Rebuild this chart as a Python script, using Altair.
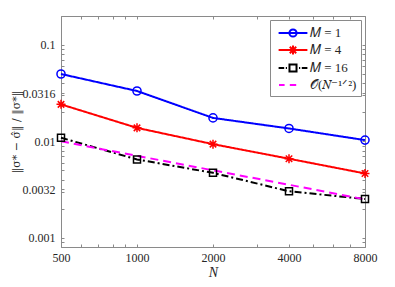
import altair as alt
import pandas as pd

# ---- data ----
N = [500, 1000, 2000, 4000, 8000]
m1 = [0.050, 0.0333, 0.0175, 0.0136, 0.0103]
m4 = [0.0242, 0.0138, 0.00935, 0.0066, 0.00464]
m16 = [0.0109, 0.00649, 0.00471, 0.00303, 0.00252]
ref = [0.0100, 0.00707, 0.0050, 0.00354, 0.0025]

series = ["𝑀 = 1", "𝑀 = 4", "𝑀 = 16", "𝒪(𝑁⁻¹ᐟ²)"]
colors = ["#0000ff", "#ff0000", "#000000", "#ff00ff"]
dashes = [[1, 0], [1, 0], [7, 3, 2, 3], [8, 5]]

x_major = [500, 1000, 2000, 4000, 8000]
x_ticks = [500, 600, 700, 800, 900, 1000, 2000, 3000, 4000, 5000, 6000, 7000, 8000]
y_major = [0.001, 0.0031622777, 0.01, 0.031622777, 0.1]
y_major_labels = ["0.001", "0.0032", "0.01", "0.0316", "0.1"]
y_minor = [0.0008, 0.0009, 0.002, 0.003, 0.004, 0.005, 0.006, 0.007, 0.008, 0.009,
           0.02, 0.03, 0.04, 0.05, 0.06, 0.07, 0.08, 0.09, 0.2]

rows = []
for name, vals in zip(series, [m1, m4, m16, ref]):
    for n, v in zip(N, vals):
        rows.append({"series": name, "N": n, "err": v})
df = pd.DataFrame(rows)

FONT = "Liberation Serif"
FRAME = "#8a8a8a"
TEXT = "#262626"
T = 3
W, H = 304, 231

# marker shapes (unit coordinates)
circle = "M0.9,0A0.9,0.9,0,1,1,-0.9,0A0.9,0.9,0,1,1,0.9,0Z"
star = "M0,-1L0,1M-1,0L1,0M-0.72,-0.72L0.72,0.72M-0.72,0.72L0.72,-0.72"
square = "M-0.78,-0.78L0.78,-0.78L0.78,0.78L-0.78,0.78Z"

# legend symbols: line + marker
leg_shapes = [
    "M-1.8,0L1.8,0M0.45,0A0.45,0.45,0,1,1,-0.45,0A0.45,0.45,0,1,1,0.45,0",
    "M-1.8,0L1.8,0M0,-0.56L0,0.56M-0.4,-0.4L0.4,0.4M-0.4,0.4L0.4,-0.4",
    "M-1.8,0L-1.1,0M-0.9,0L-0.75,0M-0.44,-0.44L0.44,-0.44L0.44,0.44L-0.44,0.44Z"
    "M0.75,0L0.9,0M1.1,0L1.8,0",
    "M-1.75,0L-1.05,0M-0.4,0L0.4,0",
]

xs = alt.Scale(type="log", domain=[500, 8000], nice=False)
ys = alt.Scale(type="log", domain=[0.0008, 0.2], nice=False)

x_label_expr = f"indexof({x_major}, datum.value) >= 0 ? datum.label : ''"
y_label_expr = (f"indexof({y_major}, datum.value) >= 0 ? "
                f"{y_major_labels}[indexof({y_major}, datum.value)] : ''")
all_y = sorted(y_major + y_minor)

x_bottom = alt.Axis(orient="bottom", values=x_ticks, format="d", labelExpr=x_label_expr,
                    offset=-T, tickSize=T, domain=False, grid=False, tickColor=FRAME,
                    labelPadding=5, labelFont=FONT, labelFontSize=12, labelColor=TEXT,
                    labelFlush=False, labelOverlap=False,
                    title="N", titleFont=FONT, titleFontStyle="italic", titleFontSize=14,
                    titleFontWeight="normal", titleColor=TEXT, titlePadding=2)
y_left = alt.Axis(orient="left", values=all_y, labelExpr=y_label_expr,
                  offset=-T, tickSize=T, domain=False, grid=False, tickColor=FRAME,
                  labelPadding=6, labelFont=FONT, labelFontSize=12, labelColor=TEXT,
                  labelFlush=False, labelOverlap=False,
                  title="‖σ* − σ̂‖ / ‖σ*‖", titleFont="DejaVu Serif", titleFontSize=11,
                  titleFontWeight="normal", titleColor=TEXT, titlePadding=1)
x_top = alt.Axis(orient="top", values=x_ticks, labels=False, offset=-T, tickSize=T,
                 domain=False, grid=False, tickColor=FRAME, title=None)
y_right = alt.Axis(orient="right", values=all_y, labels=False, offset=-T, tickSize=T,
                   domain=False, grid=False, tickColor=FRAME, title=None)

color_scale = alt.Scale(domain=series, range=colors)

lines = alt.Chart(df).mark_line(strokeWidth=2).encode(
    x=alt.X("N:Q", scale=xs, axis=x_bottom),
    y=alt.Y("err:Q", scale=ys, axis=y_left),
    color=alt.Color("series:N", scale=color_scale, legend=None),
    strokeDash=alt.StrokeDash("series:N", scale=alt.Scale(domain=series, range=dashes), legend=None),
    order=alt.Order("N:Q"),
)

points = alt.Chart(df).transform_filter(
    alt.FieldOneOfPredicate(field="series", oneOf=series[:3])
).mark_point(filled=False, strokeWidth=1.5, size=81, opacity=1).encode(
    x=alt.X("N:Q", scale=xs, axis=None),
    y=alt.Y("err:Q", scale=ys, axis=None),
    color=alt.Color("series:N", scale=color_scale, legend=None),
    shape=alt.Shape("series:N", scale=alt.Scale(domain=series[:3], range=[circle, star, square]), legend=None),
)

leg = dict(title=None, orient="top-right", offset=4, padding=4, fillColor="white",
           strokeColor=FRAME, symbolSize=256, symbolStrokeWidth=2, rowPadding=0,
           labelFont=FONT, labelFontSize=13, labelColor=TEXT, labelOffset=8,
           symbolOffset=10, symbolOpacity=1)

legend_layer = alt.Chart(df).mark_point(filled=False, opacity=0).encode(
    x=alt.X("N:Q", scale=xs, axis=x_top),
    y=alt.Y("err:Q", scale=ys, axis=y_right),
    color=alt.Color("series:N", scale=color_scale, legend=alt.Legend(**leg)),
    shape=alt.Shape("series:N", scale=alt.Scale(domain=series, range=leg_shapes), legend=alt.Legend(**leg)),
)

chart = alt.layer(lines, points, legend_layer).resolve_scale(
    color="independent", shape="independent"
).resolve_axis(x="independent", y="independent").properties(
    width=W, height=H,
    autosize=alt.AutoSizeParams(type="none"),
    padding={"left": 53, "top": 8, "right": 22, "bottom": 32},
).configure_view(stroke=FRAME, strokeWidth=1)

chart.save("out.html", embed_options={"renderer": "svg", "actions": False})
